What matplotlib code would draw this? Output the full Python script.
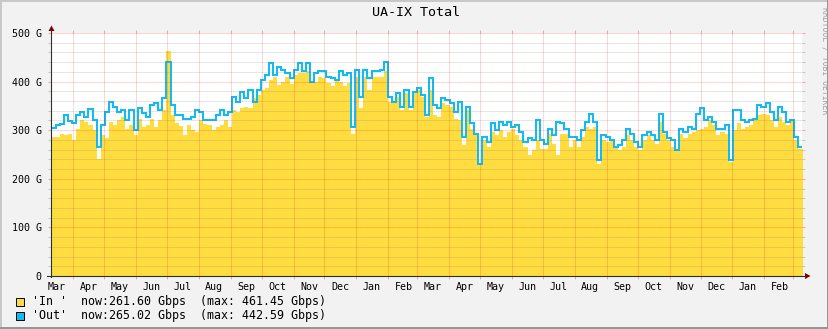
import numpy as np
import matplotlib
matplotlib.use("Agg")
import matplotlib.pyplot as plt
import matplotlib.dates as mdates
from matplotlib.patches import Polygon, Rectangle
from matplotlib.lines import Line2D
from matplotlib.ticker import MultipleLocator, FixedLocator

# ---------------- data ----------------
title = "UA-IX Total"
y_ticks = [0, 100, 200, 300, 400, 500]
y_tick_labels = ["0", "100 G", "200 G", "300 G", "400 G", "500 G"]
start_date = np.datetime64("2021-03-11")
end_date = np.datetime64("2023-03-10")

in_gbps = [
    286, 287, 293, 290, 293, 279, 303, 321, 317, 310, 300, 241, 290, 283, 317, 310, 321, 328, 303, 310, 290, 324, 307, 310, 324, 307, 321, 341, 462, 331, 314,
    308, 290, 310, 300, 296, 321, 313, 310, 300, 307, 310, 321, 307, 341, 338, 345, 348, 345, 366, 372, 383, 386, 404, 410, 393, 400, 410, 396, 414, 417, 417,
    421, 397, 400, 410, 407, 397, 390, 404, 400, 390, 397, 293, 410, 345, 410, 383, 410, 410, 410, 421, 359, 355, 369, 341, 376, 341, 376, 383, 369, 328, 383,
    331, 328, 355, 352, 348, 324, 321, 269, 341, 303, 290, 228, 279, 266, 297, 290, 300, 286, 297, 303, 290, 279, 266, 248, 259, 279, 262, 262, 293, 272, 248,
    293, 293, 265, 279, 265, 286, 307, 303, 307, 231, 279, 276, 279, 265, 259, 265, 290, 279, 265, 259, 279, 290, 279, 272, 317, 293, 279, 265, 259, 293,
    283, 293, 297, 300, 303, 307, 321, 310, 290, 297, 293, 235, 300, 314, 303, 307, 310, 321, 331, 334, 331, 321, 307, 328, 317, 310, 321, 279, 262,
]
out_gbps = [
    305, 310, 312, 331, 319, 314, 331, 338, 328, 343, 321, 265, 310, 338, 359, 348, 338, 341, 321, 341, 300, 345, 335, 328, 352, 355, 341, 366, 441, 352, 331,
    331, 324, 324, 328, 341, 338, 321, 321, 321, 331, 341, 331, 338, 369, 359, 379, 366, 383, 359, 383, 404, 414, 438, 414, 431, 424, 417, 407, 424, 438, 421,
    438, 400, 417, 421, 421, 410, 407, 404, 421, 414, 417, 307, 424, 369, 424, 407, 421, 421, 424, 441, 369, 359, 376, 348, 383, 348, 379, 386, 372, 331, 407,
    352, 345, 366, 362, 355, 338, 359, 286, 348, 314, 293, 231, 286, 276, 314, 300, 317, 310, 317, 307, 310, 297, 276, 283, 279, 321, 279, 272, 303, 290, 317,
    314, 303, 286, 286, 279, 300, 317, 334, 317, 238, 290, 286, 279, 265, 269, 279, 303, 293, 276, 265, 290, 297, 290, 279, 334, 297, 283, 279, 259, 303,
    297, 306, 303, 334, 345, 321, 328, 317, 303, 303, 310, 238, 341, 341, 321, 317, 321, 324, 352, 348, 355, 338, 321, 348, 338, 317, 321, 286, 265,
]
legend_names = ["'In '", "'Out'"]
legend_now = ["261.60", "265.02"]
legend_max = ["461.45", "442.59"]

# ---------------- style ----------------
YELLOW = "#FFDC40"
BLUE = "#10BCF2"
BG = "#F2F2F2"
MONO = "DejaVu Sans Mono"
MGRID = (1.0, 0.0, 0.0, 0.33)
GRID = (0.45, 0.45, 0.45, 0.35)

W, H = 829, 329
fig = plt.figure(figsize=(W / 100, H / 100), dpi=100, facecolor=BG)

def fx(px):
    return px / W

def fy(py):
    return 1 - py / H

L, R, T, B = 51.5, 802.5, 33.0, 276.0
ax = fig.add_axes([fx(L), fy(B), (R - L) / W, (B - T) / H])
ax.set_facecolor("white")

n = len(in_gbps)
x0 = mdates.date2num(start_date)
x1 = mdates.date2num(end_date)
edges = np.linspace(x0, x1, n + 1)
in_ext = np.r_[in_gbps, in_gbps[-1]]
out_ext = np.r_[out_gbps, out_gbps[-1]]

ax.fill_between(edges, 0, in_ext, step="post", color=YELLOW, lw=0, zorder=1)
ax.plot(edges, out_ext, drawstyle="steps-post", color=BLUE, lw=1.45, zorder=2,
        solid_joinstyle="miter")

ax.set_xlim(x0, x1)
ax.set_ylim(0, 500)

# grid
ax.yaxis.set_major_locator(FixedLocator(y_ticks))
ax.set_yticklabels(y_tick_labels)
ax.yaxis.set_minor_locator(MultipleLocator(20))
ax.xaxis.set_major_locator(mdates.MonthLocator())
ax.xaxis.set_major_formatter(plt.NullFormatter())
ax.xaxis.set_minor_locator(mdates.MonthLocator(bymonthday=16))
ax.xaxis.set_minor_formatter(mdates.DateFormatter("%b"))

dash = (0, (1, 1))
for yv in ax.yaxis.get_minorticklocs():
    if yv % 100 != 0:
        ax.axhline(yv, color=GRID, lw=0.72, ls=dash, zorder=3)
for yv in y_ticks[1:]:
    ax.axhline(yv, color=MGRID, lw=0.72, ls=dash, zorder=3)
for xv in ax.xaxis.get_majorticklocs():
    if x0 < xv < x1:
        ax.axvline(xv, color=MGRID, lw=0.72, ls=dash, zorder=3)

ax.tick_params(axis="y", which="major", length=2, width=0.72, color=MGRID,
               labelsize=7.2, pad=5, labelfontfamily=MONO, right=True)
ax.tick_params(axis="y", which="minor", length=2, width=0.72, color=GRID, right=True)
ax.tick_params(axis="x", which="major", length=2.5, width=0.72, color=MGRID, top=True)
ax.tick_params(axis="x", which="minor", length=0, labelsize=7.2, pad=4,
               labelfontfamily=MONO)
for s in ax.spines.values():
    s.set_visible(False)

# axes lines and arrows
AXC = "#303030"
ARC = "#800000"
fig.add_artist(Line2D([fx(L), fx(L)], [fy(B + 0.5), fy(30)], color=AXC, lw=0.8,
                      transform=fig.transFigure))
fig.add_artist(Line2D([fx(47.5), fx(805)], [fy(B), fy(B)], color=AXC, lw=0.8,
                      transform=fig.transFigure))
fig.add_artist(Polygon([[fx(L), fy(25.5)], [fx(L - 3), fy(31)], [fx(L + 3), fy(31)]],
                       closed=True, color=ARC, transform=fig.transFigure, lw=0))
fig.add_artist(Polygon([[fx(810.5), fy(B)], [fx(805), fy(B - 3)], [fx(805), fy(B + 3)]],
                       closed=True, color=ARC, transform=fig.transFigure, lw=0))

# title
fig.text(fx(416.5), fy(13), title, ha="center", va="center", fontsize=9.6,
         family=MONO, color="black")

# legend
colors = [YELLOW, BLUE]
rows_y = [302, 316]
for name, now, mx, c, yy in zip(legend_names, legend_now, legend_max, colors, rows_y):
    fig.add_artist(Rectangle((fx(16), fy(yy + 4)), 8 / W, 8 / H, facecolor=c,
                             edgecolor="black", lw=0.7, transform=fig.transFigure))
    fig.text(fx(32), fy(yy), f"{name}  now:{now} Gbps  (max: {mx} Gbps)",
             ha="left", va="center", fontsize=8.4, family=MONO, color="black")

# watermark
fig.text(fx(824.7), fy(61), "RRDTOOL / TOBI OETIKER", rotation=270, ha="center",
         va="center", fontsize=5.9, family=MONO, color="#A0A0A0")

# border shading
fig.add_artist(Rectangle((0, fy(2)), 1, 2 / H, facecolor="#C8C8C8", lw=0,
                         transform=fig.transFigure))
fig.add_artist(Rectangle((0, 0), 2 / W, 1, facecolor="#C8C8C8", lw=0,
                         transform=fig.transFigure))
fig.add_artist(Rectangle((0, 0), 1, 2 / H, facecolor="#969696", lw=0,
                         transform=fig.transFigure))
fig.add_artist(Rectangle((1 - 2 / W, 0), 2 / W, 1, facecolor="#969696", lw=0,
                         transform=fig.transFigure))

fig.savefig("out.png", dpi=100, facecolor=BG)
